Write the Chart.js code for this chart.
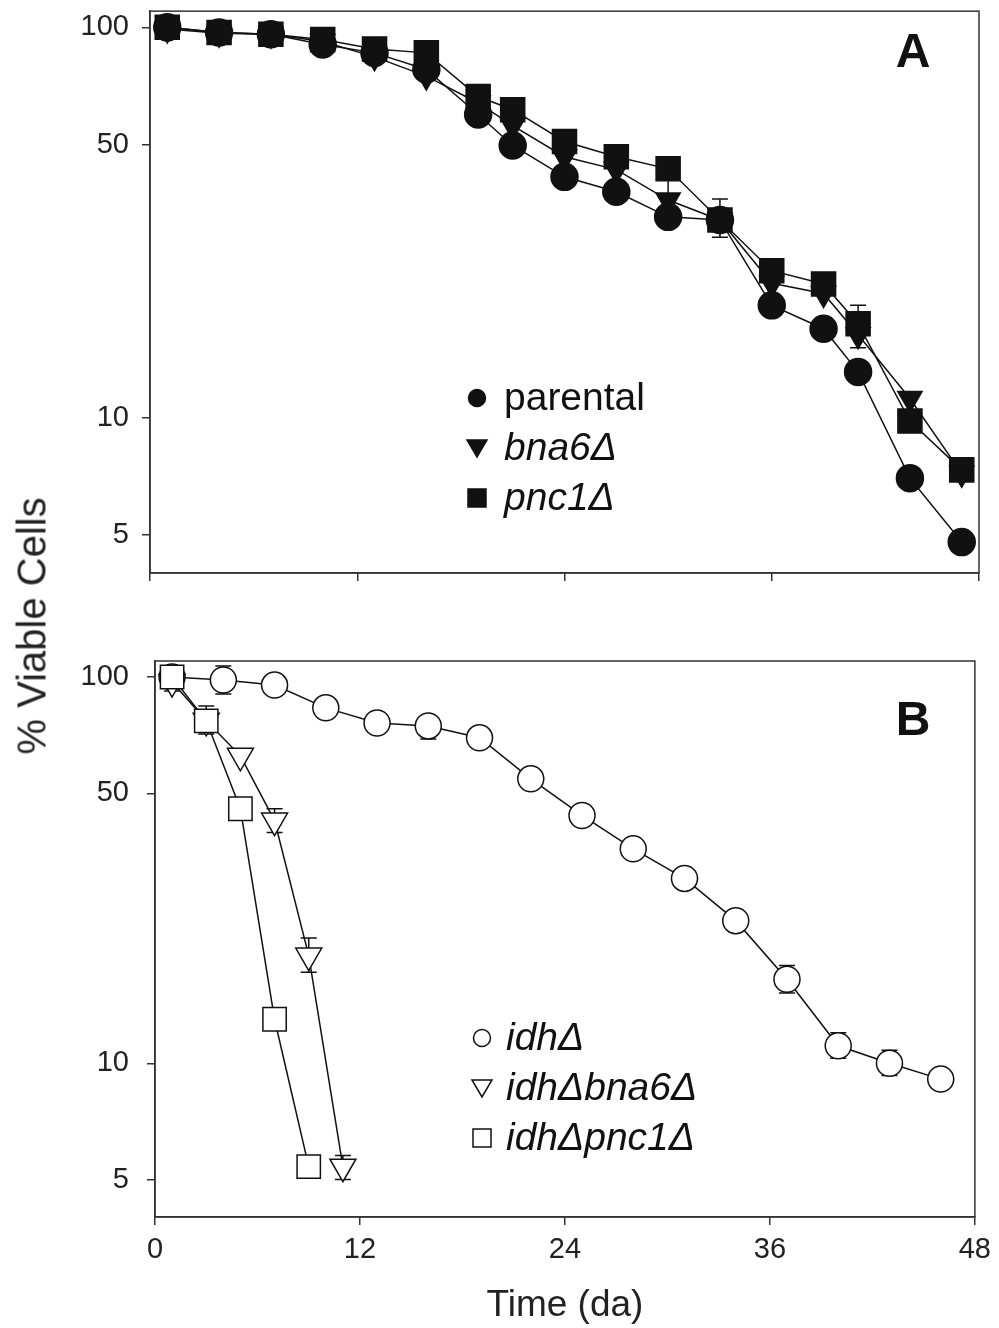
<!DOCTYPE html>
<html>
<head>
<meta charset="utf-8">
<script src="https://cdn.jsdelivr.net/npm/chart.js@4.4.1/dist/chart.umd.min.js"></script>
<style>
  body { margin: 0; background: #fff; }
  #wrap { position: relative; width: 999px; height: 1328px; overflow: hidden; }
  #chartA { position: absolute; left: 0; top: -12px; }
  #chartB { position: absolute; left: 0; top: 620px; }
  #yTitle {
    position: absolute; left: 32px; top: 626px;
    transform: translate(-50%, -50%) rotate(-90deg);
    font: 40px "Liberation Sans", Arial, sans-serif; color: #222; white-space: nowrap;
  }
</style>
</head>
<body>
<div id="wrap">
  <canvas id="chartA" width="999" height="632"></canvas>
  <canvas id="chartB" width="999" height="708"></canvas>
  <div id="yTitle">% Viable Cells</div>
</div>
<script>
// --- données ---
const yTicks = [5, 10, 50, 100];

// Panneau A
const daysA = [1, 4, 7, 10, 13, 16, 19, 21, 24, 27, 30, 33, 36, 39, 41, 44, 47];
const parental = [100, 97, 96, 90.4, 86, 78, 59.8, 49.8, 41.4, 37.9, 32.7, 32.1, 19.4, 16.9, 13.1, 7.0, 4.8];
const bna6 = [99, 96.5, 96, 92, 84, 75, 64, 56, 46.6, 43.2, 36.1, 32.1, 22.1, 20.8, 16.3, 11.2, 7.2];
const pnc1 = [100, 97, 96, 93, 88, 86, 66.5, 61.5, 51, 46.6, 43.4, 32.1, 23.8, 22.0, 17.4, 9.8, 7.35];
const pnc1Hi = [null, null, null, null, null, null, null, null, null, null, null, 36.3, null, null, 19.4, null, null];
const pnc1Lo = [null, null, null, null, null, null, null, null, null, null, 36.3, 29.0, null, null, 15.1, null, null];

// Panneau B
const daysIdh = [1, 4, 7, 10, 13, 16, 19, 22, 25, 28, 31, 34, 37, 40, 43, 46];
const idh = [100, 98.2, 95.3, 83.2, 76.0, 74.7, 69.6, 54.5, 43.8, 35.9, 30.1, 23.4, 16.5, 11.1, 10.0, 9.1];
const idhHi = [null, 106.8, null, null, null, null, null, null, null, null, null, null, 17.9, 12.0, 10.8, null];
const idhLo = [null, 90.4, null, null, null, 69.1, null, null, null, null, null, null, 15.2, 10.3, 9.3, null];
const daysIdhBna6 = [1, 3, 5, 7, 9, 11];
const idhBna6 = [97, 77, 62.5, 42.5, 19.0, 5.4];
const idhBna6Hi = [null, null, null, 45.6, 21.1, 5.77];
const idhBna6Lo = [92, null, null, 39.6, 17.2, 5.0];
const daysIdhPnc1 = [1, 3, 5, 7, 9];
const idhPnc1 = [100, 77, 45.6, 13.0, 5.4];
const idhPnc1Hi = [null, 84.1, null, null, null];
const idhPnc1Lo = [null, 71.2, null, null, null];

const FONT = '"Liberation Sans", Arial, sans-serif';
const INK = '#111';
Chart.defaults.font.family = FONT;
Chart.defaults.color = '#222';

const pts = (xs, ys) => xs.map((x, i) => ({ x: x, y: ys[i] }));

// cadre complet autour de la zone de tracé
const framePlugin = {
    id: 'frame',
    afterDraw(chart) {
        const { ctx, chartArea: a } = chart;
        ctx.save();
        ctx.strokeStyle = '#333';
        ctx.lineWidth = 1.5;
        ctx.strokeRect(a.left, a.top, a.right - a.left, a.bottom - a.top);
        ctx.restore();
    }
};

// barres d'erreur (sous les marqueurs)
const errorBars = {
    id: 'errorBars',
    beforeDatasetsDraw(chart) {
        const { ctx, scales: { x, y } } = chart;
        ctx.save();
        ctx.strokeStyle = INK;
        ctx.lineWidth = 1.5;
        chart.data.datasets.forEach(ds => {
            if (!ds.errHi) return;
            ds.data.forEach((p, i) => {
                const px = x.getPixelForValue(p.x);
                const py = y.getPixelForValue(p.y);
                [ds.errHi[i], ds.errLo[i]].forEach(v => {
                    if (v == null) return;
                    const ey = y.getPixelForValue(v);
                    ctx.beginPath();
                    ctx.moveTo(px, py); ctx.lineTo(px, ey);
                    ctx.moveTo(px - 8, ey); ctx.lineTo(px + 8, ey);
                    ctx.stroke();
                });
            });
        });
        ctx.restore();
    }
};

function drawMarker(ctx, style, x, y, filled) {
    ctx.beginPath();
    if (style === 'circle') {
        ctx.arc(x, y, 8.5, 0, Math.PI * 2);
    } else if (style === 'triangle') {
        ctx.moveTo(x - 10, y - 8); ctx.lineTo(x + 10, y - 8); ctx.lineTo(x, y + 9); ctx.closePath();
    } else {
        ctx.rect(x - 9, y - 9, 18, 18);
    }
    ctx.fillStyle = filled ? INK : '#fff';
    ctx.fill();
    ctx.lineWidth = 1.5;
    ctx.strokeStyle = INK;
    ctx.stroke();
}

// lettre du panneau + légende dans le cadre
const decor = {
    id: 'decor',
    afterDraw(chart, args, o) {
        const ctx = chart.ctx;
        ctx.save();
        ctx.fillStyle = INK;
        ctx.font = 'bold 48px ' + FONT;
        ctx.textAlign = 'center';
        ctx.textBaseline = 'alphabetic';
        ctx.fillText(o.letter, o.letterX, o.letterY);
        chart.data.datasets.slice().sort((a, b) => a.legendIndex - b.legendIndex).forEach((ds, i) => {
            const cy = o.legendY + i * o.rowGap;
            drawMarker(ctx, ds.pointStyle, o.markerX, cy, o.filled);
            ctx.fillStyle = INK;
            ctx.font = (ds.italic ? 'italic ' : '') + '39px ' + FONT;
            ctx.textAlign = 'left';
            ctx.fillText(ds.label, o.textX, cy + 12);
        });
        ctx.restore();
    }
};

function series(label, data, style, opts) {
    return Object.assign({
        label: label,
        data: data,
        borderColor: INK,
        borderWidth: 1.5,
        tension: 0,
        pointStyle: style,
        pointRotation: style === 'triangle' ? 180 : 0,
        pointBorderColor: INK,
        pointBorderWidth: 1.5,
        clip: false
    }, opts);
}

function axes(yWidth, yPad, showX) {
    return {
        x: {
            type: 'linear', min: 0, max: 48,
            ticks: { stepSize: 12, display: showX, padding: 8, font: { size: 29 }, maxRotation: 0 },
            grid: { drawOnChartArea: false, tickLength: 8, color: '#333', lineWidth: 1.5 },
            border: { color: '#333', width: 1.5 },
            title: showX ? { display: true, text: 'Time (da)', font: { size: 37 }, padding: { top: 0, bottom: 0 }, color: '#222' } : { display: false },
            afterFit: s => { s.height = showX ? 111 : 47; }
        },
        y: {
            type: 'logarithmic', min: 4, max: 110,
            afterBuildTicks: s => { s.ticks = yTicks.map(v => ({ value: v })); },
            ticks: { callback: v => String(v), padding: yPad, font: { size: 29, lineHeight: 0.7 } },
            grid: { drawOnChartArea: false, tickLength: 8, color: '#333', lineWidth: 1.5 },
            border: { color: '#333', width: 1.5 },
            afterFit: s => { s.width = yWidth; }
        }
    };
}

document.addEventListener('DOMContentLoaded', () => {
    // Panneau A : symboles pleins
    new Chart(document.getElementById('chartA').getContext('2d'), {
        type: 'line',
        data: {
            datasets: [
                series('pnc1Δ', pts(daysA, pnc1), 'rect', { order: 2, legendIndex: 2, italic: true, pointRadius: 17, pointBackgroundColor: INK, errHi: pnc1Hi, errLo: pnc1Lo }),
                series('bna6Δ', pts(daysA, bna6), 'triangle', { order: 1, legendIndex: 1, italic: true, pointRadius: 14, pointBackgroundColor: INK }),
                series('parental', pts(daysA, parental), 'circle', { order: 0, legendIndex: 0, italic: false, pointRadius: 13.5, pointBackgroundColor: INK })
            ]
        },
        options: {
            responsive: false, animation: false, events: [],
            layout: { padding: { top: 0, right: 20, left: 0, bottom: 0 } },
            scales: axes(150, 13, false),
            plugins: {
                legend: { display: false }, tooltip: { enabled: false },
                // coordonnées dans le canvas A (décalé de -12 px)
                decor: { letter: 'A', letterX: 913, letterY: 79, legendY: 410, rowGap: 50, markerX: 477, textX: 504, filled: true }
            }
        },
        plugins: [framePlugin, errorBars, decor]
    });

    // Panneau B : symboles vides
    new Chart(document.getElementById('chartB').getContext('2d'), {
        type: 'line',
        data: {
            datasets: [
                series('idhΔ', pts(daysIdh, idh), 'circle', { order: 2, legendIndex: 0, italic: true, pointRadius: 13, pointBackgroundColor: '#fff', errHi: idhHi, errLo: idhLo }),
                series('idhΔbna6Δ', pts(daysIdhBna6, idhBna6), 'triangle', { order: 1, legendIndex: 1, italic: true, pointRadius: 15, pointBackgroundColor: '#fff', errHi: idhBna6Hi, errLo: idhBna6Lo }),
                series('idhΔpnc1Δ', pts(daysIdhPnc1, idhPnc1), 'rect', { order: 0, legendIndex: 2, italic: true, pointRadius: 16.5, pointBackgroundColor: '#fff', errHi: idhPnc1Hi, errLo: idhPnc1Lo })
            ]
        },
        options: {
            responsive: false, animation: false, events: [],
            layout: { padding: { top: 41, right: 20, left: 0, bottom: 0 } },
            scales: axes(155, 18, true),
            plugins: {
                legend: { display: false }, tooltip: { enabled: false },
                decor: { letter: 'B', letterX: 913, letterY: 115, legendY: 418, rowGap: 50, markerX: 482, textX: 506, filled: false }
            }
        },
        plugins: [framePlugin, errorBars, decor]
    });
});
</script>
</body>
</html>
